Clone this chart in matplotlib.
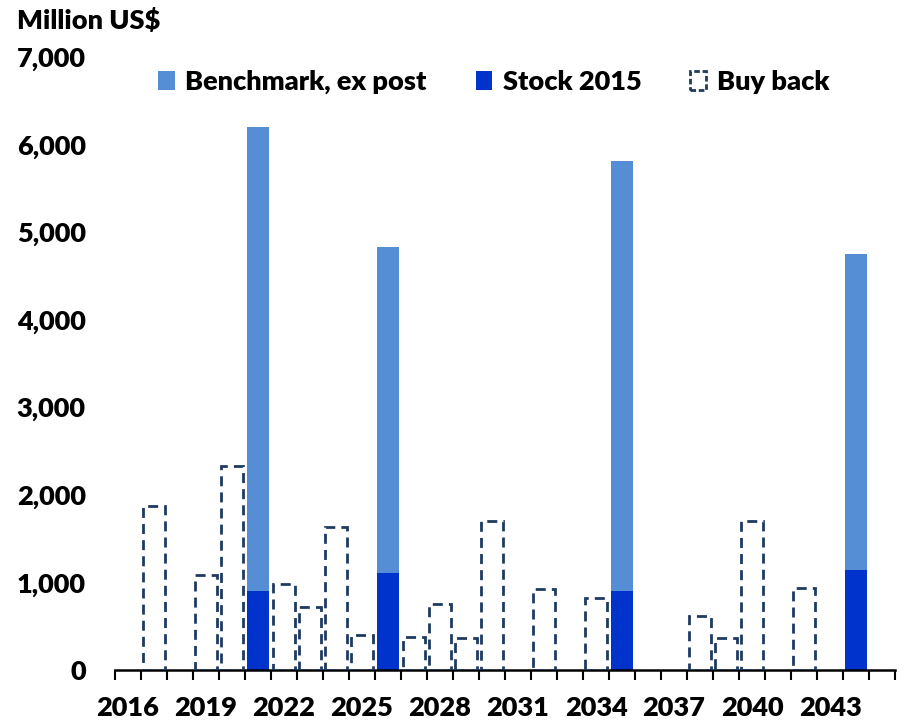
import numpy as np
import matplotlib
matplotlib.use('Agg')
from matplotlib import pyplot as plt
from matplotlib.patches import Patch

# data (million US$)
YEARS = list(range(2016, 2046))
BUYBACK_YEARS = [2017, 2019, 2020, 2022, 2023, 2024, 2025, 2027, 2028, 2029,
                 2030, 2032, 2034, 2038, 2039, 2040, 2042]
BUYBACK = [1870, 1080, 2330, 980, 720, 1630, 400, 375, 750, 365,
           1700, 920, 820, 620, 365, 1700, 940]
STACK_YEARS = [2021, 2026, 2035, 2044]
STOCK_2015 = [905, 1105, 905, 1140]
BENCHMARK = [5290, 3720, 4910, 3615]
YTICKS = [0, 1000, 2000, 3000, 4000, 5000, 6000, 7000]

LIGHT = '#558ED5'
DARK = '#0033CC'
NAVY = '#1F3A5F'
FONT = 'Lato'
FS = 19.5
WEIGHT = 'heavy'

plt.rcParams['font.family'] = FONT
plt.rcParams['font.weight'] = WEIGHT

fig = plt.figure(figsize=(9.08, 7.23), dpi=100)
ax = fig.add_axes([115 / 908, 53 / 723, 780 / 908, 613 / 723])

pos = {y: i for i, y in enumerate(YEARS)}
bx = [pos[y] for y in BUYBACK_YEARS]
sx = [pos[y] for y in STACK_YEARS]

ax.bar(sx, STOCK_2015, width=0.82, color=DARK, label='Stock 2015', zorder=2)
ax.bar(sx, BENCHMARK, width=0.82, bottom=STOCK_2015, color=LIGHT,
       label='Benchmark, ex post', zorder=2)
ax.bar(bx, BUYBACK, width=0.84, fill=False, edgecolor=NAVY, linewidth=2,
       linestyle=(0, (3.6, 2.2)), label='Buy back', zorder=3)

ax.set_xlim(-0.5, len(YEARS) - 0.5)
ax.set_ylim(0, 7000)

ax.set_yticks(YTICKS)
ax.set_yticklabels([f'{v:,}' for v in YTICKS], fontsize=FS, fontweight=WEIGHT)
ax.tick_params(axis='y', length=0, pad=21)

ax.set_xticks(range(0, len(YEARS), 3))
ax.set_xticklabels([str(y) for y in YEARS[::3]], fontsize=FS, fontweight=WEIGHT)
ax.set_xticks(np.arange(-0.5, len(YEARS), 1), minor=True)
ax.tick_params(axis='x', which='major', length=0, pad=19)
ax.tick_params(axis='x', which='minor', length=7, width=1.5, direction='out')

for side in ['left', 'right', 'top']:
    ax.spines[side].set_visible(False)
ax.spines['bottom'].set_linewidth(1.8)

handles = [Patch(facecolor=LIGHT, label='Benchmark, ex post'),
           Patch(facecolor=DARK, label='Stock 2015'),
           Patch(fill=False, edgecolor=NAVY, linewidth=2,
                 linestyle=(0, (2, 1)), label='Buy back')]
fig.legend(handles=handles, loc='center', bbox_to_anchor=(494 / 908, 1 - 82 / 723),
           ncol=3, frameon=False, prop={'family': FONT, 'weight': WEIGHT, 'size': FS},
           handlelength=0.6, handleheight=0.7, handletextpad=0.4,
           columnspacing=1.8)

fig.text(17 / 908, 1 - 20 / 723, 'Million US$', fontsize=FS, fontweight=WEIGHT,
         ha='left', va='center')

fig.savefig('out.png', dpi=100)
